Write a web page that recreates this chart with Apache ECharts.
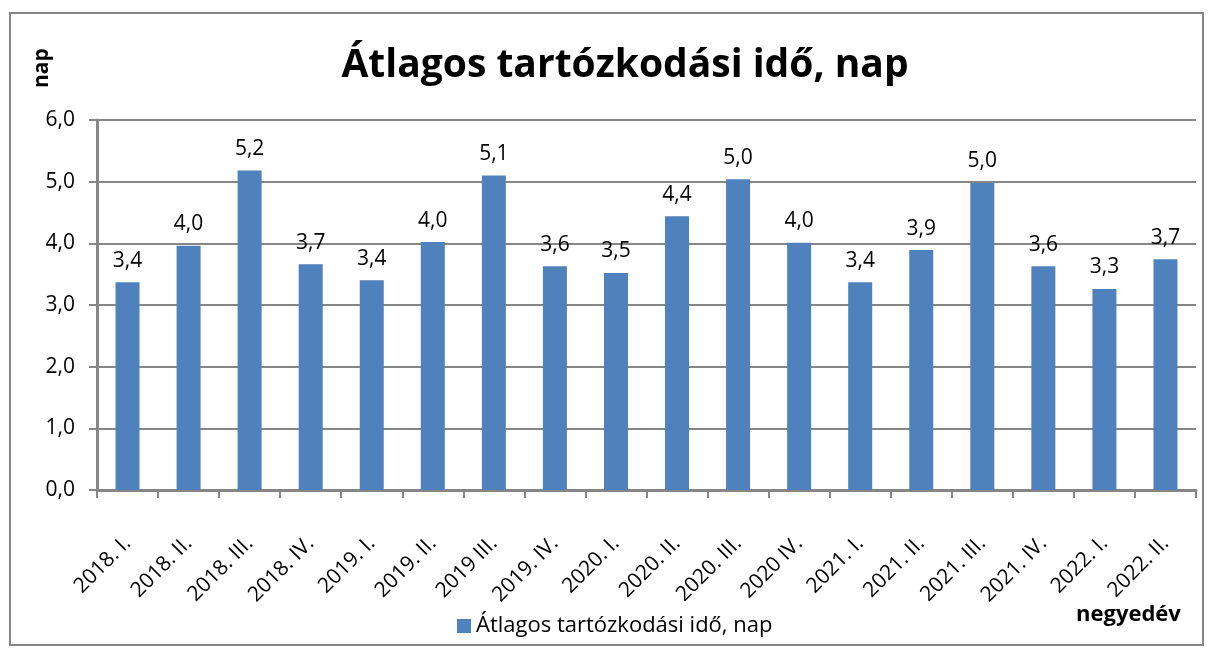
<!DOCTYPE html>
<html>
<head>
<meta charset="utf-8">
<script src="https://cdn.jsdelivr.net/npm/echarts@6/dist/echarts.min.js"></script>
<style>
  html, body { margin: 0; padding: 0; background: #fff; }
  #chart { width: 1213px; height: 658px; }
</style>
</head>
<body>
<div id="chart"></div>
<script>
// quarters (labels as printed on the original)
const quarters = [
  '2018. I.', '2018. II.', '2018. III.', '2018. IV.',
  '2019. I.', '2019. II.', '2019 III.', '2019. IV.',
  '2020. I.', '2020. II.', '2020. III.', '2020 IV.',
  '2021. I.', '2021. II.', '2021. III.', '2021. IV.',
  '2022. I.', '2022. II.'
];
// average length of stay, days
const avgStay = [
  3.37, 3.96, 5.18, 3.66,
  3.40, 4.02, 5.10, 3.63,
  3.52, 4.44, 5.04, 4.01,
  3.37, 3.89, 4.98, 3.63,
  3.26, 3.74
];
const yTicks = [0, 1, 2, 3, 4, 5, 6];

const seriesName = 'Átlagos tartózkodási idő, nap';
const font = '"Open Sans", sans-serif';
const fmt = (v) => Number(v).toFixed(1).replace('.', ',');

const chart = echarts.init(document.getElementById('chart'));

const option = {
  animation: false,
  backgroundColor: '#fff',
  textStyle: { fontFamily: font },
  title: {
    text: 'Átlagos tartózkodási idő, nap',
    left: 620,
    top: 41,
    textAlign: 'center',
    textStyle: { fontSize: 39, fontWeight: 'bold', color: '#000', fontFamily: font }
  },
  legend: {
    data: [seriesName],
    left: 452,
    top: 610,
    itemWidth: 14,
    itemHeight: 14,
    icon: 'rect',
    itemGap: 6,
    textStyle: { fontSize: 22, color: '#000', fontFamily: font }
  },
  grid: { left: 97, right: 17, top: 120, bottom: 168, containLabel: false },
  xAxis: {
    type: 'category',
    data: quarters,
    axisLine: { lineStyle: { color: '#868686', width: 3 } },
    axisTick: { show: true, length: 8, lineStyle: { color: '#868686', width: 2 } },
    axisLabel: {
      rotate: 45,
      interval: 0,
      margin: 50,
      fontSize: 21,
      color: '#000',
      fontFamily: font
    }
  },
  yAxis: {
    type: 'value',
    min: yTicks[0],
    max: yTicks[yTicks.length - 1],
    interval: 1,
    axisLine: { show: true, lineStyle: { color: '#868686', width: 3 } },
    axisTick: { show: true, length: 8, lineStyle: { color: '#868686', width: 2 } },
    splitLine: { lineStyle: { color: '#868686', width: 2 } },
    axisLabel: {
      formatter: fmt,
      fontSize: 21,
      color: '#000',
      margin: 22,
      fontFamily: font
    }
  },
  graphic: [
    {
      type: 'rect',
      shape: { x: 10, y: 13, width: 1193, height: 632 },
      style: { fill: 'none', stroke: '#868686', lineWidth: 2 },
      z: 0
    },
    {
      type: 'text',
      left: 1076,
      top: 604,
      style: { text: 'negyedév', font: 'bold 22px ' + font, fill: '#000' }
    },
    {
      // rotated y axis title
      type: 'text',
      rotation: Math.PI / 2,
      x: 53,
      y: 88,
      style: { text: 'nap', font: 'bold 21px ' + font, fill: '#000', textAlign: 'left', textVerticalAlign: 'bottom' }
    }
  ],
  series: [
    {
      name: seriesName,
      type: 'bar',
      data: avgStay,
      barWidth: 24,
      itemStyle: { color: '#4f81bd' },
      label: {
        show: true,
        position: 'top',
        distance: 11,
        formatter: (p) => fmt(p.value),
        fontSize: 21,
        color: '#000',
        fontFamily: font
      }
    }
  ]
};

chart.setOption(option);
</script>
</body>
</html>
